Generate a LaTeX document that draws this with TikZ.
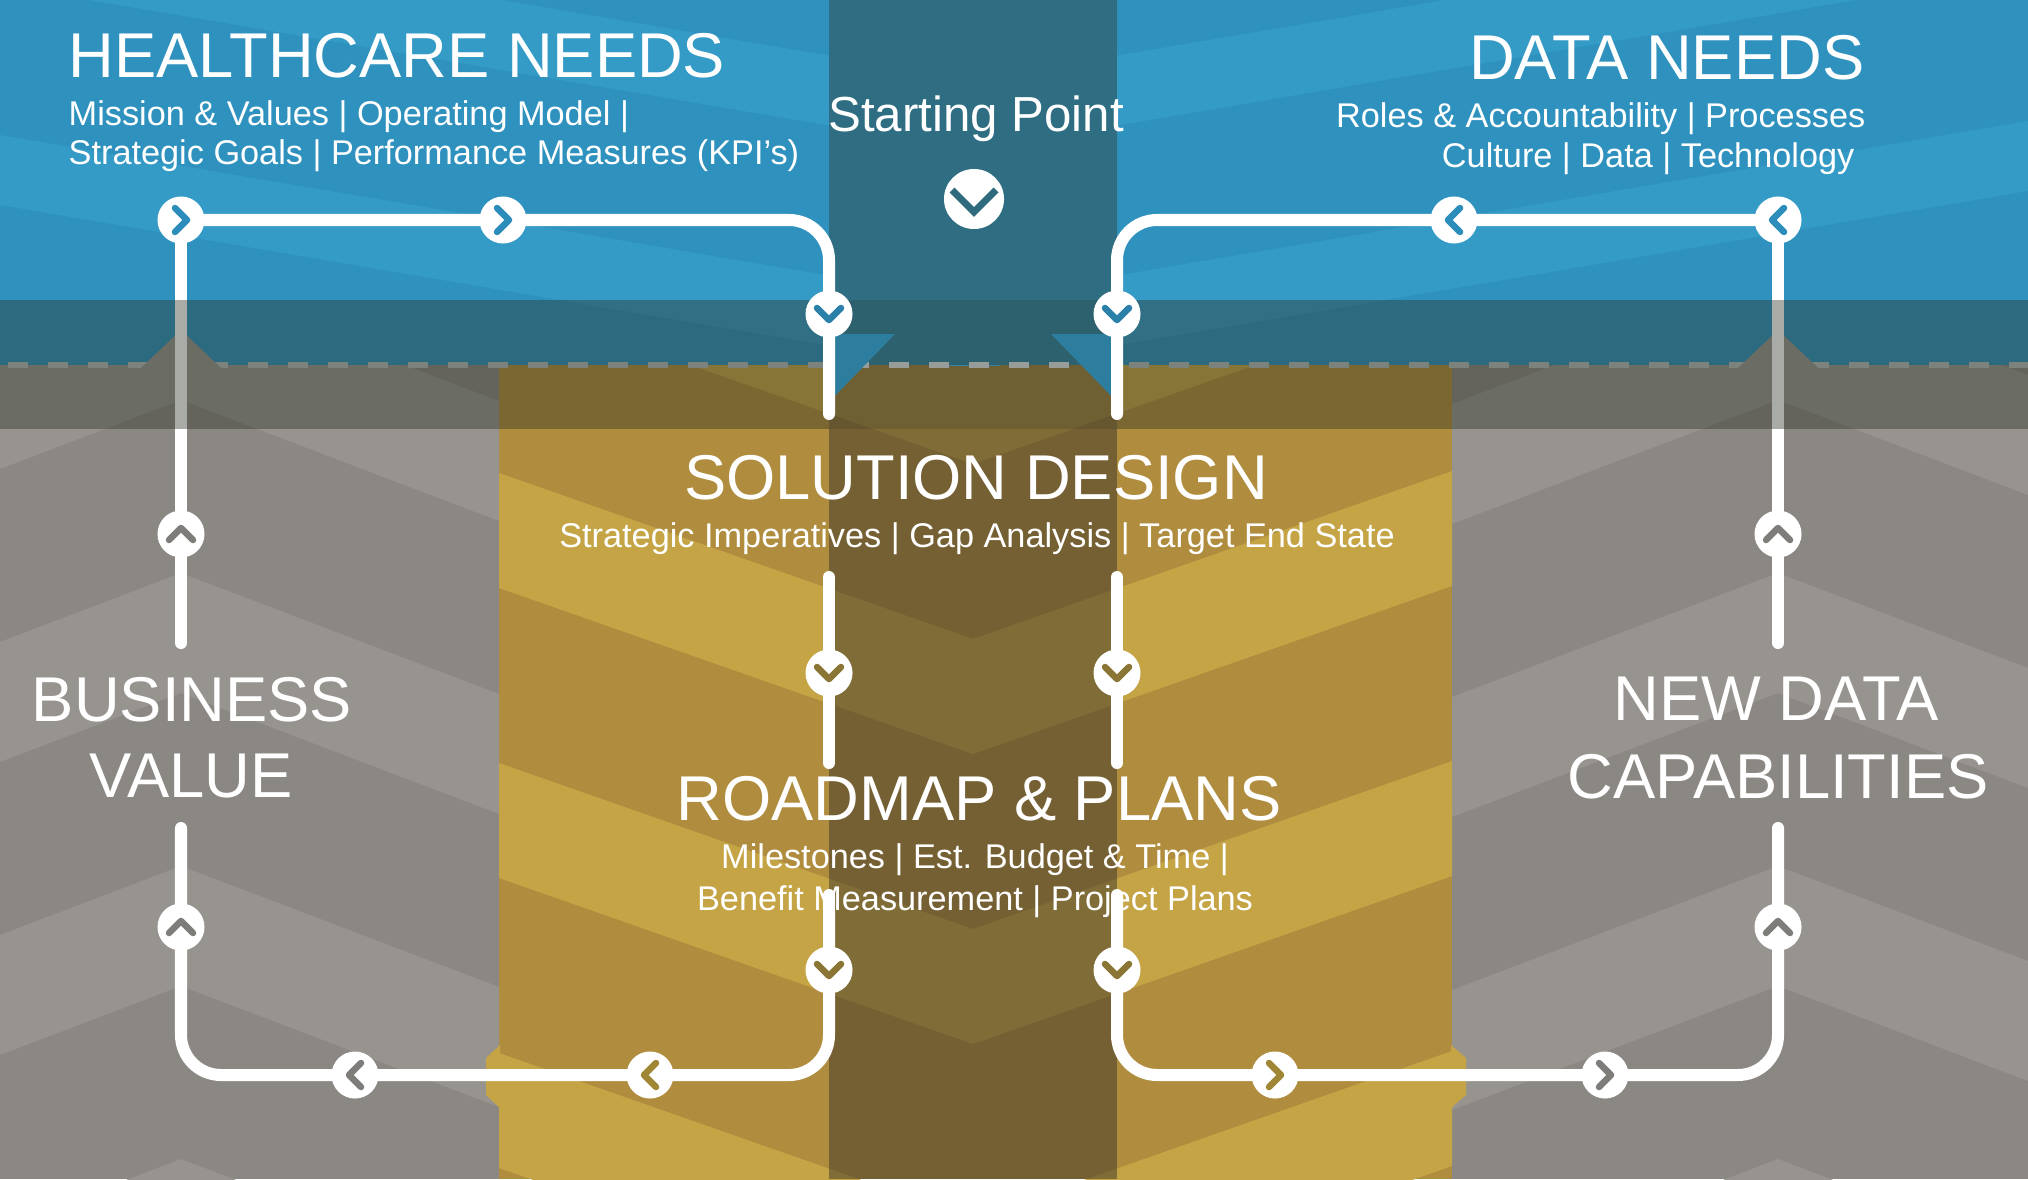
\documentclass[tikz,border=0pt]{standalone}
\usepackage{fontspec}
\setmainfont{Liberation Sans}

\definecolor{blueA}{HTML}{2E91BE}
\definecolor{blueB}{HTML}{349AC6}
\definecolor{tealC}{HTML}{2F6E82}
\definecolor{greyA}{HTML}{8B8884}
\definecolor{greyB}{HTML}{979490}
\definecolor{goldA}{HTML}{B08D3E}
\definecolor{goldB}{HTML}{C5A446}
\definecolor{shadeC}{HTML}{2E2A26}
\definecolor{bandC}{HTML}{2A3022}
\definecolor{dashc}{HTML}{B4B9B9}
\definecolor{chevBlue}{HTML}{2C8CBA}
\definecolor{chevBand}{HTML}{2A80A8}
\definecolor{chevGrey}{HTML}{7F7D7A}
\definecolor{chevGold}{HTML}{A08735}
\definecolor{chevOlive}{HTML}{8A7535}
\definecolor{checkc}{HTML}{2E6C7D}

\begin{document}
\begin{tikzpicture}[x=0.01cm, y=-0.01cm,
  flow/.style={draw=white, line width=1.2mm, line cap=round, rounded corners=4mm},
  waypt/.style={circle, fill=white, inner sep=0pt, minimum size=4.7mm},
  pics/chev/.style={code={\draw[line width=1.85pt, line cap=round, line join=round, draw=#1] (-6,-12) -- (6,0) -- (-6,12);}},
  title/.style={text=white, font=\fontsize{18}{20}\selectfont, inner sep=0pt},
  sub/.style={text=white, font=\fontsize{9.75}{11}\selectfont, inner sep=0pt},
]
\useasboundingbox (0,0) rectangle (2028,1179);

% ---------- lower zone: grey sides, gold middle ----------
\fill[greyA] (0,365) rectangle (499,1179);
\fill[greyA] (1452,365) rectangle (2028,1179);
\fill[goldA] (499,365) rectangle (1452,1179);
\begin{scope}
  \clip (0,365) rectangle (499,1179);
  \foreach \c in {280,573,866,1159}
    \fill[greyB] (0,\c+69) -- (181,\c) -- (499,\c+121) -- (499,\c+241) -- (181,\c+120) -- (0,\c+189) -- cycle;
\end{scope}
\begin{scope}
  \clip (1452,365) rectangle (2028,1179);
  \foreach \c in {280,573,866,1159}
    \fill[greyB] (1452,\c+124) -- (1778,\c) -- (2028,\c+95) -- (2028,\c+215) -- (1778,\c+120) -- (1452,\c+244) -- cycle;
\end{scope}
\begin{scope}
  \clip (499,365) rectangle (1452,1179);
  \foreach \c in {349,639,929,1219}
    \fill[goldB] (499,\c-166) -- (973,\c) -- (1452,\c-168) -- (1452,\c-53) -- (973,\c+115) -- (499,\c-51) -- cycle;
\end{scope}
% small gold lugs where the bottom line crosses the column edges
\fill[goldB] (500,1045) -- (486,1058) -- (486,1095) -- (500,1108) -- cycle;
\fill[goldB] (1451,1045) -- (1466,1058) -- (1466,1095) -- (1451,1108) -- cycle;
% darker central column
\fill[shadeC, opacity=0.45] (829,365) rectangle (1117,1179);

% ---------- upper zone: blue with teal centre ----------
\fill[blueA] (0,0) rectangle (2028,365);
\begin{scope}
  \clip (0,0) rectangle (2028,365);
  \foreach \c in {80,300}
    \fill[blueB] (0,\c-165) -- (973,\c) -- (2028,\c-179) -- (2028,\c-109) -- (973,\c+70) -- (0,\c-95) -- cycle;
\end{scope}
\fill[tealC] (829,0) rectangle (1117,365);

% dashed divider
\draw[dashc, line width=1.45pt, dash pattern=on 2mm off 2mm] (8,365) -- (2028,365);

% peaks and notches along the divider
\fill[greyB] (141,368) -- (181,330) -- (221,368) -- cycle;
\fill[greyB] (1738,368) -- (1778,330) -- (1818,368) -- cycle;
\fill[blueA] (829,334) -- (895,334) -- (829,402) -- cycle;
\fill[blueA] (1117,334) -- (1051,334) -- (1117,402) -- cycle;

% ---------- route points ----------
\coordinate (A1) at (181,220);
\coordinate (A2) at (503,220);
\coordinate (A3) at (829,220);
\coordinate (A4) at (829,314);
\coordinate (A5) at (829,414);
\coordinate (L1) at (181,534);
\coordinate (L0) at (181,643);
\coordinate (L2) at (181,828);
\coordinate (L3) at (181,927);
\coordinate (L4) at (181,1075);
\coordinate (B1) at (355,1075);
\coordinate (B2) at (650,1075);
\coordinate (B3) at (829,1075);
\coordinate (B4) at (829,970);
\coordinate (B5) at (829,895);
\coordinate (M1) at (829,577);
\coordinate (M2) at (829,673);
\coordinate (M3) at (829,763);

\coordinate (RA1) at (1778,220);
\coordinate (RA2) at (1454,220);
\coordinate (RA3) at (1117,220);
\coordinate (RA4) at (1117,314);
\coordinate (RA5) at (1117,414);
\coordinate (RL1) at (1778,534);
\coordinate (RL0) at (1778,643);
\coordinate (RL2) at (1778,828);
\coordinate (RL3) at (1778,927);
\coordinate (RL4) at (1778,1075);
\coordinate (RB1) at (1605,1075);
\coordinate (RB2) at (1275,1075);
\coordinate (RB3) at (1117,1075);
\coordinate (RB4) at (1117,970);
\coordinate (RB5) at (1117,895);
\coordinate (RM1) at (1117,577);
\coordinate (RM2) at (1117,673);
\coordinate (RM3) at (1117,763);

% outer verticals sit under the dark band
\draw[flow] (A1) -- (L0);
\draw[flow] (RA1) -- (RL0);

% dark band across the divider
\fill[bandC, opacity=0.4] (0,300) rectangle (829,429);
\fill[bandC, opacity=0.4] (1117,300) rectangle (2028,429);
\fill[bandC, opacity=0.2] (829,300) rectangle (1117,429);

% ---------- routes ----------
\draw[flow] (A1) -- (A3) -- (A5);
\draw[flow] (RA1) -- (RA3) -- (RA5);
\draw[flow] (M1) -- (M3);
\draw[flow] (RM1) -- (RM3);
\draw[flow] (L2) -- (L4) -- (B3) -- (B5);
\draw[flow] (RL2) -- (RL4) -- (RB3) -- (RB5);

% ---------- waypoints with direction chevrons ----------
\node[waypt] (wA1) at (A1) {};  \pic at (wA1) {chev=chevBlue};
\node[waypt] (wA2) at (A2) {};  \pic at (wA2) {chev=chevBlue};
\node[waypt] (wA4) at (A4) {};  \pic[rotate=-90] at (wA4) {chev=chevBand};
\node[waypt] (wL1) at (L1) {};  \pic[rotate=90] at (wL1) {chev=chevGrey};
\node[waypt] (wL3) at (L3) {};  \pic[rotate=90] at (wL3) {chev=chevGrey};
\node[waypt] (wB1) at (B1) {};  \pic[rotate=180] at (wB1) {chev=chevGrey};
\node[waypt] (wB2) at (B2) {};  \pic[rotate=180] at (wB2) {chev=chevGold};
\node[waypt] (wB4) at (B4) {};  \pic[rotate=-90] at (wB4) {chev=chevOlive};
\node[waypt] (wM2) at (M2) {};  \pic[rotate=-90] at (wM2) {chev=chevOlive};

\node[waypt] (wRA1) at (RA1) {}; \pic[rotate=180] at (wRA1) {chev=chevBlue};
\node[waypt] (wRA2) at (RA2) {}; \pic[rotate=180] at (wRA2) {chev=chevBlue};
\node[waypt] (wRA4) at (RA4) {}; \pic[rotate=-90] at (wRA4) {chev=chevBand};
\node[waypt] (wRL1) at (RL1) {}; \pic[rotate=90] at (wRL1) {chev=chevGrey};
\node[waypt] (wRL3) at (RL3) {}; \pic[rotate=90] at (wRL3) {chev=chevGrey};
\node[waypt] (wRB1) at (RB1) {}; \pic at (wRB1) {chev=chevGrey};
\node[waypt] (wRB2) at (RB2) {}; \pic at (wRB2) {chev=chevGold};
\node[waypt] (wRB4) at (RB4) {}; \pic[rotate=-90] at (wRB4) {chev=chevOlive};
\node[waypt] (wRM2) at (RM2) {}; \pic[rotate=-90] at (wRM2) {chev=chevOlive};

% ---------- starting point ----------
\node[text=white, font=\fontsize{14}{16}\selectfont, inner sep=0pt, anchor=base] (start) at (976,132) {Starting Point};
\node[circle, fill=white, inner sep=0pt, minimum size=6mm] (startmark) at (974,199) {};
\draw[checkc, line width=2pt] ([shift={(-22,-9)}]startmark.center) -- ++(22,22) -- ++(22,-22);

% ---------- labels ----------
\node[title, anchor=base west] (hcn) at (68,78) {HEALTHCARE NEEDS};
\node[sub, anchor=base west] (hcs1) at (68,126) {Mission \& Values | Operating Model |};
\node[sub, anchor=base west] (hcs2) at (68,165) {Strategic Goals | Performance Measures (KPI’s)};

\node[title, anchor=base east] (dn) at (1865,80) {DATA NEEDS};
\node[sub, anchor=base east] (dns1) at (1866,128) {Roles \& Accountability | Processes};
\node[sub, anchor=base east] (dns2) at (1855,168) {Culture | Data | Technology};

\node[title, anchor=base] (sd) at (976,499) {SOLUTION DESIGN};
\node[sub, anchor=base] (sds) at (977,547) {Strategic Imperatives | Gap Analysis | Target End State};

\node[title, anchor=base] (rp) at (979,820) {ROADMAP \& PLANS};
\node[sub, anchor=base] (rps1) at (975,868) {Milestones | Est. Budget \& Time |};
\node[sub, anchor=base] (rps2) at (975,910) {Benefit Measurement | Project Plans};

\node[title, anchor=base] (bv1) at (192,721) {BUSINESS};
\node[title, anchor=base] (bv2) at (191,797) {VALUE};

\node[title, anchor=base] (nd1) at (1776,720) {NEW DATA};
\node[title, anchor=base] (nd2) at (1778,798) {CAPABILITIES};
\end{tikzpicture}
\end{document}
